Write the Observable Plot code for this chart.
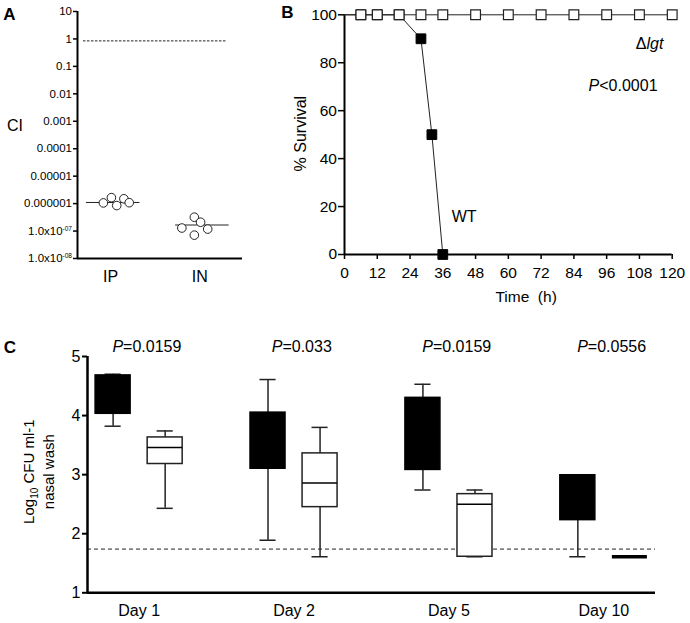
<!DOCTYPE html>
<html><head><meta charset="utf-8">
<script src="https://cdn.jsdelivr.net/npm/d3@7"></script>
<script src="https://cdn.jsdelivr.net/npm/@observablehq/plot@0.6"></script>
<style>
html,body{margin:0;padding:0;background:#fff;}
#fig{position:relative;width:690px;height:623px;overflow:hidden;background:#fff;font-family:"Liberation Sans",Arial,sans-serif;}
#fig > svg{position:absolute;}
</style></head><body><div id="fig"></div>
<script>
// ---------- Panel A data ----------
const routes = ["IP", "IN"];
const ciTicks = [10, 1, 0.1, 0.01, 0.001, 0.0001, 0.00001, 0.000001, 1e-7, 1e-8];
const ciTickLabels = ["10", "1", "0.1", "0.01", "0.001", "0.0001", "0.00001", "0.000001", "1.0x10-07", "1.0x10-08"];
const ipCI = [1.06e-6, 1.65e-6, 0.85e-6, 1.5e-6, 1.08e-6];
const ipJitter = [-0.08, 0.01, 0.07, 0.15, 0.21];
const inCI = [1.29e-7, 3.2e-7, 2.1e-7, 1.18e-7, 0.71e-7];
const inJitter = [-0.20, -0.06, 0.01, 0.09, -0.06];
const ciMedians = [1.1e-6, 1.66e-7];
const ciReference = 0.85;

// ---------- Panel B data ----------
const lgtHours = [0, 6, 12, 20, 28, 36, 48, 60, 72, 84, 96, 108, 120];
const lgtSurvival = [100, 100, 100, 100, 100, 100, 100, 100, 100, 100, 100, 100, 100];
const wtHours = [0, 6, 12, 20, 28, 32, 36];
const wtSurvival = [100, 100, 100, 100, 90, 50, 0];
const hourTicks = [0, 12, 24, 36, 48, 60, 72, 84, 96, 108, 120];
const survivalTicks = [0, 20, 40, 60, 80, 100];

// ---------- Panel C data ----------
const days = ["Day 1", "Day 2", "Day 5", "Day 10"];
const wtMin = [3.82, 1.89, 2.74, 1.61];
const wtQ1 = [4.03, 3.10, 3.08, 2.23];
const wtMedian = [4.50, 3.60, 3.70, 2.60];
const wtQ3 = [4.68, 4.05, 4.30, 2.99];
const wtMax = [4.70, 4.61, 4.53, 2.99];
const lgtMin = [2.43, 1.61, 1.61, 1.61];
const lgtQ1 = [3.18, 2.45, 1.61, 1.61];
const lgtMedian = [3.46, 2.86, 2.50, 1.61];
const lgtQ3 = [3.63, 3.36, 2.67, 1.61];
const lgtMax = [3.74, 3.80, 2.74, 1.61];
const pValues = ["P=0.0159", "P=0.033", "P=0.0159", "P=0.0556"];
const cfuTicks = [1, 2, 3, 4, 5];
const detectionLimit = 1.74;

const FONT = '"Liberation Sans", Arial, sans-serif';
const baseStyle = {fontFamily: FONT, background: "transparent", color: "black", overflow: "visible", fontSize: "16px"};
const fig = document.getElementById("fig");
const mid = {textAnchor: "middle", lineAnchor: "middle"};

function richText(svg) {
  d3.select(svg).selectAll("text").each(function () {
    const el = this;
    if (el.children.length) return;
    const s = el.textContent;
    let m;
    const add = (txt, attrs) => {
      const t = document.createElementNS("http://www.w3.org/2000/svg", "tspan");
      for (const k in attrs) t.setAttribute(k, attrs[k]);
      t.textContent = txt;
      el.appendChild(t);
    };
    if ((m = s.match(/^P([=<].*)$/))) {
      el.textContent = "";
      add("P", {"font-style": "italic"});
      add(m[1], {});
    } else if ((m = s.match(/^(1\.0x10)(-\d\d)$/))) {
      el.textContent = "";
      add(m[1], {});
      add(m[2], {"font-size": "6.5", dy: "-4"});
    } else if (s === "Δlgt") {
      el.textContent = "";
      add("Δ", {});
      add("lgt", {"font-style": "italic"});
    } else if ((m = s.match(/^Log10(.*)$/))) {
      el.textContent = "";
      add("Log", {});
      add("10", {"font-size": "10", dy: "4"});
      add(m[1], {dy: "-4"});
    }
  });
}

function place(svg, left, top, xFont, yFont) {
  svg.style.left = left + "px";
  svg.style.top = top + "px";
  const s = d3.select(svg);
  s.selectAll('[aria-label="x-axis tick label"] text').style("font-size", xFont + "px");
  s.selectAll('[aria-label="y-axis tick label"] text').style("font-size", yFont + "px");
  richText(svg);
  fig.appendChild(svg);
}

// ---------- Panel A ----------
const ciPoints = [
  ...ipCI.map((v, i) => ({pos: 1 + ipJitter[i], ci: v})),
  ...inCI.map((v, i) => ({pos: 2 + inJitter[i], ci: v}))
];
const plotA = Plot.plot({
  width: 250, height: 290,
  marginLeft: 77, marginRight: 8, marginTop: 11, marginBottom: 32,
  style: baseStyle,
  x: {type: "linear", domain: [0.63, 2.48]},
  y: {type: "log", domain: [1e-8, 10]},
  marks: [
    Plot.ruleY([ciReference], {x1: 0.697, x2: 2.31, stroke: "#222", strokeWidth: 1, strokeDasharray: "2.5,1.5"}),
    Plot.ruleY(ciMedians, {y: d => d, x1: (d, i) => i + 1 - 0.27, x2: (d, i) => i + 1 + 0.33, stroke: "#222", strokeWidth: 1}),
    Plot.dot(ciPoints, {x: "pos", y: "ci", r: 4.3, fill: "white", stroke: "#222", strokeWidth: 1}),
    Plot.ruleX([0.63], {stroke: "black", strokeWidth: 2}),
    Plot.ruleY([1e-8], {stroke: "black", strokeWidth: 2}),
    Plot.axisY({ticks: ciTicks, tickFormat: d => ciTickLabels[ciTicks.findIndex(t => Math.abs(Math.log10(t) - Math.log10(d)) < 1e-6)],
      tickSize: 4, tickPadding: 1.5, strokeWidth: 1.5, label: null}),
    Plot.axisX({ticks: [1, 2], tickFormat: d => routes[d - 1], tickSize: 0, tickPadding: 12, label: null}),
    Plot.text(["CI"], {text: d => d, frameAnchor: "left", dx: -62.5, dy: -9.5, fontSize: 16, ...mid}),
    Plot.text(["A"], {text: d => d, frameAnchor: "top-left", dx: -68, dy: 3, fontSize: 17, fontWeight: "bold", ...mid})
  ]
});
place(plotA, 0, 0, 16, 11.5);

// ---------- Panel C ----------
const boxes = days.flatMap((day, i) => [
  {i, strain: "WT", pos: i - 0.168, min: wtMin[i], q1: wtQ1[i], med: wtMedian[i], q3: wtQ3[i], max: wtMax[i]},
  {i, strain: "lgt", pos: i + 0.168, min: lgtMin[i], q1: lgtQ1[i], med: lgtMedian[i], q3: lgtQ3[i], max: lgtMax[i]}
]);
const hw = 0.113, cw = 0.052;
const plotC = Plot.plot({
  width: 690, height: 333,
  marginLeft: 87, marginRight: 35, marginTop: 66, marginBottom: 30.7,
  style: baseStyle,
  x: {type: "linear", domain: [-1 / 3, 10 / 3]},
  y: {domain: [1, 5]},
  marks: [
    Plot.ruleY([detectionLimit], {stroke: "#222", strokeWidth: 1, strokeDasharray: "4,3"}),
    Plot.ruleX(boxes, {x: "pos", y1: "min", y2: "max", stroke: "#222", strokeWidth: 1.5}),
    Plot.ruleY(boxes, {y: "min", x1: d => d.pos - cw, x2: d => d.pos + cw, stroke: "#222", strokeWidth: 1.5}),
    Plot.ruleY(boxes, {y: "max", x1: d => d.pos - cw, x2: d => d.pos + cw, stroke: "#222", strokeWidth: 1.5}),
    Plot.rect(boxes.filter(d => d.strain === "WT"), {x1: d => d.pos - hw, x2: d => d.pos + hw, y1: "q1", y2: "q3", fill: "black", stroke: "black", strokeWidth: 1.5}),
    Plot.rect(boxes.filter(d => d.strain === "lgt"), {x1: d => d.pos - hw, x2: d => d.pos + hw, y1: "q1", y2: "q3", fill: "white", stroke: "#222", strokeWidth: 1.5}),
    Plot.ruleY(boxes, {y: "med", x1: d => d.pos - hw, x2: d => d.pos + hw, stroke: "black", strokeWidth: d => d.q1 === d.q3 ? 3.5 : 1.5}),
    Plot.ruleX([-1 / 3], {stroke: "black", strokeWidth: 2.5}),
    Plot.ruleY([1], {stroke: "black", strokeWidth: 2.5}),
    Plot.axisY({ticks: cfuTicks, tickFormat: d => String(d), tickSize: 5, tickPadding: 2, strokeWidth: 2, label: null}),
    Plot.axisX({ticks: [0, 1, 2, 3], tickFormat: d => days[d], tickSize: 0, tickPadding: 12, label: null}),
    Plot.text(pValues, {text: d => d, x: (d, i) => i + 0.05, y: 5.16, fontSize: 16}),
    Plot.text(["Log10 CFU ml-1"], {text: d => d, frameAnchor: "left", dx: -58, dy: -3, rotate: -90, fontSize: 15, ...mid}),
    Plot.text(["nasal wash"], {text: d => d, frameAnchor: "left", dx: -38.5, dy: -3, rotate: -90, fontSize: 15, ...mid}),
    Plot.text(["C"], {text: d => d, frameAnchor: "top-left", dx: -77.5, dy: -9, fontSize: 17, fontWeight: "bold", ...mid})
  ]
});
place(plotC, 0, 290, 16, 16);

// ---------- Panel B ----------
const lgt = lgtHours.map((h, i) => ({h, s: lgtSurvival[i]}));
const wt = wtHours.map((h, i) => ({h, s: wtSurvival[i]}));
const plotB = Plot.plot({
  width: 440, height: 310,
  marginLeft: 94, marginRight: 18.3, marginTop: 14.3, marginBottom: 56,
  style: baseStyle,
  x: {domain: [0, 120]},
  y: {domain: [0, 100]},
  marks: [
    Plot.ruleX([0], {stroke: "black", strokeWidth: 2}),
    Plot.ruleY([0], {stroke: "black", strokeWidth: 2}),
    Plot.axisX({ticks: hourTicks, tickSize: 5, tickPadding: 7, strokeWidth: 1.5, label: null}),
    Plot.axisY({ticks: survivalTicks, tickSize: 6, tickPadding: 1.5, strokeWidth: 1.5, label: null}),
    Plot.line(wt, {x: "h", y: "s", stroke: "#222", strokeWidth: 1}),
    Plot.dot(wt.filter(d => d.h > 0), {x: "h", y: "s", symbol: "square", r: 5.5, fill: "black", stroke: "black", strokeWidth: 1}),
    Plot.line(lgt, {x: "h", y: "s", stroke: "#222", strokeWidth: 1}),
    Plot.dot(lgt.filter(d => d.h > 0), {x: "h", y: "s", symbol: "square", r: 5.5, fill: "white", stroke: "#222", strokeWidth: 1.2}),
    Plot.text(["Δlgt"], {text: d => d, x: 111.7, y: 87.9, fontSize: 16}),
    Plot.text(["P<0.0001"], {text: d => d, x: 102, y: 70.4, fontSize: 16}),
    Plot.text(["WT"], {text: d => d, x: 43.8, y: 15.8, fontSize: 16}),
    Plot.text(["% Survival"], {text: d => d, frameAnchor: "left", dx: -44, dy: -1, rotate: -90, fontSize: 16, ...mid}),
    Plot.text(["Time \u00a0(h)"], {text: d => d, x: 66.5, frameAnchor: "bottom", dy: 43, fontSize: 15.5, ...mid}),
    Plot.text(["B"], {text: d => d, frameAnchor: "top-left", dx: -57, dy: -2.3, fontSize: 17, fontWeight: "bold", ...mid})
  ]
});
place(plotB, 250, 0, 15.5, 15.5);
</script>
</body></html>
